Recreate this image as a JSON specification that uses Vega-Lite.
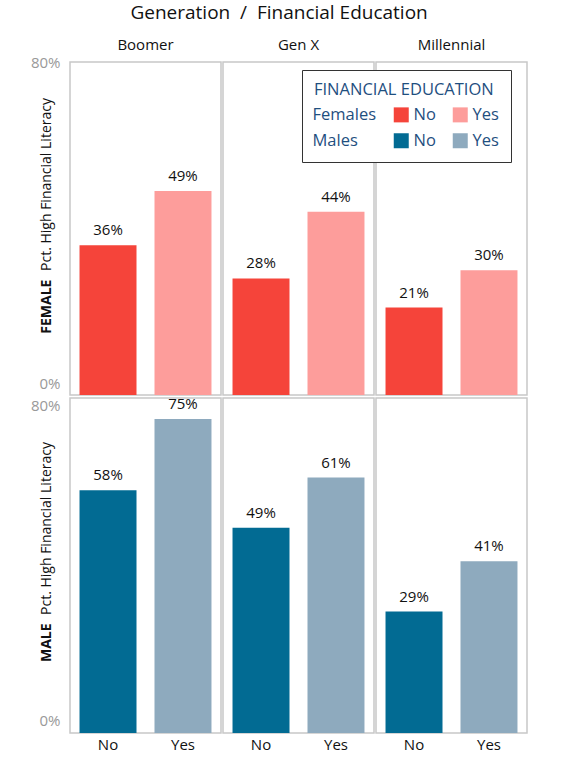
{
  "$schema": "https://vega.github.io/schema/vega-lite/v6.json",
  "padding": {"left": 30, "top": 4, "right": 5, "bottom": 5},
  "title": {
    "text": "Generation \u00a0/\u00a0 Financial Education",
    "fontSize": 19,
    "fontWeight": "normal",
    "color": "#111",
    "anchor": "middle",
    "offset": 15
  },
  "datasets": {
    "lit": [
      {"gender": "Female", "generation": "Boomer", "edu": "No", "grp": "F|No", "pct": 0.36},
      {"gender": "Female", "generation": "Boomer", "edu": "Yes", "grp": "F|Yes", "pct": 0.49},
      {"gender": "Female", "generation": "Gen X", "edu": "No", "grp": "F|No", "pct": 0.28},
      {"gender": "Female", "generation": "Gen X", "edu": "Yes", "grp": "F|Yes", "pct": 0.44},
      {"gender": "Female", "generation": "Millennial", "edu": "No", "grp": "F|No", "pct": 0.21},
      {"gender": "Female", "generation": "Millennial", "edu": "Yes", "grp": "F|Yes", "pct": 0.30},
      {"gender": "Male", "generation": "Boomer", "edu": "No", "grp": "M|No", "pct": 0.58},
      {"gender": "Male", "generation": "Boomer", "edu": "Yes", "grp": "M|Yes", "pct": 0.75},
      {"gender": "Male", "generation": "Gen X", "edu": "No", "grp": "M|No", "pct": 0.49},
      {"gender": "Male", "generation": "Gen X", "edu": "Yes", "grp": "M|Yes", "pct": 0.61},
      {"gender": "Male", "generation": "Millennial", "edu": "No", "grp": "M|No", "pct": 0.29},
      {"gender": "Male", "generation": "Millennial", "edu": "Yes", "grp": "M|Yes", "pct": 0.41}
    ]
  },
  "spacing": 0,
  "vconcat": [
    {
      "data": {"name": "lit"},
      "transform": [{"filter": "datum.gender == 'Female'"}],
      "title": {
        "text": "FEMALE",
        "orient": "left",
        "anchor": "start",
        "fontSize": 14,
        "fontWeight": "bold",
        "color": "#111",
        "offset": -24,
        "dx": 62
      },
      "spacing": 0,
      "facet": {
        "column": {
          "field": "generation",
          "type": "nominal",
          "sort": ["Boomer", "Gen X", "Millennial"],
          "title": null,
          "header": {"labelFontSize": 15, "labelColor": "#111", "labelPadding": 8}
        }
      },
      "spec": {
        "width": 151,
        "height": 333,
        "encoding": {
          "x": {
            "field": "edu",
            "type": "nominal",
            "scale": {"paddingInner": 0.24, "paddingOuter": 0.127},
            "axis": null
          },
          "y": {
            "field": "pct",
            "type": "quantitative",
            "scale": {"domain": [0, 0.8]},
            "axis": {
              "values": [0, 0.8],
              "format": ".0%",
              "grid": false,
              "ticks": false,
              "domain": false,
              "labelFlush": false,
              "labelBaseline": {"condition": {"test": "datum.value == 0", "value": "bottom"}, "value": "middle"},
              "labelOffset": {"condition": {"test": "datum.value == 0", "value": -4}, "value": 0},
              "labelFontSize": 15,
              "labelColor": "#999999",
              "labelPadding": 9,
              "title": "Pct. High Financial Literacy",
              "titleFontSize": 14,
              "titleFontWeight": "normal",
              "titleColor": "#111",
              "titleAlign": "center",
              "titleBaseline": "middle",
              "titleAngle": -90,
              "titleX": -23,
              "titleY": 122
            }
          }
        },
        "layer": [
          {
            "mark": {"type": "bar"},
            "encoding": {
              "color": {
                "field": "grp",
                "type": "nominal",
                "scale": {
                  "domain": ["Females", "F|No", "F|Yes", "Males", "M|No", "M|Yes"],
                  "range": ["transparent", "#f5443a", "#fd9d9b", "transparent", "#026b93", "#8eaabe"]
                },
                "legend": {
                  "title": "FINANCIAL EDUCATION",
                  "orient": "none",
                  "direction": "horizontal",
                  "legendX": 232,
                  "legendY": 8,
                  "columns": 3,
                  "columnPadding": 16,
                  "rowPadding": 9,
                  "padding": 12,
                  "strokeColor": "#333",
                  "fillColor": "white",
                  "titleFontSize": 16.5,
                  "titleFontWeight": "normal",
                  "titleColor": "#1f4f7f",
                  "titlePadding": 8,
                  "labelFontSize": 16.5,
                  "labelColor": "#1f4f7f",
                  "symbolType": "square",
                  "symbolSize": 225,
                  "symbolStrokeWidth": 0,
                  "labelExpr": "replace(replace(datum.label, 'F|', ''), 'M|', '')",
                  "encode": {
                    "labels": {"update": {"dx": {"signal": "datum.value == 'Females' || datum.value == 'Males' ? -22 : 0"}}}
                  }
                }
              }
            }
          },
          {
            "mark": {"type": "text", "baseline": "bottom", "dy": -7, "fontSize": 15, "color": "#111"},
            "encoding": {"text": {"field": "pct", "format": ".0%"}}
          }
        ]
      }
    },
    {
      "data": {"name": "lit"},
      "transform": [{"filter": "datum.gender == 'Male'"}],
      "title": {
        "text": "MALE",
        "orient": "left",
        "anchor": "start",
        "fontSize": 14,
        "fontWeight": "bold",
        "color": "#111",
        "offset": -24,
        "dx": 90
      },
      "spacing": 0,
      "facet": {
        "column": {
          "field": "generation",
          "type": "nominal",
          "sort": ["Boomer", "Gen X", "Millennial"],
          "title": null,
          "header": null
        }
      },
      "spec": {
        "width": 151,
        "height": 335,
        "encoding": {
          "x": {
            "field": "edu",
            "type": "nominal",
            "scale": {"paddingInner": 0.24, "paddingOuter": 0.127},
            "axis": {
              "title": null,
              "labelAngle": 0,
              "labelFontSize": 15,
              "labelColor": "#111",
              "ticks": false,
              "domain": false,
              "labelPadding": 3
            }
          },
          "y": {
            "field": "pct",
            "type": "quantitative",
            "scale": {"domain": [0, 0.8]},
            "axis": {
              "values": [0, 0.8],
              "format": ".0%",
              "grid": false,
              "ticks": false,
              "domain": false,
              "labelFlush": true,
              "labelOffset": {"condition": {"test": "datum.value == 0", "value": -5}, "value": 0},
              "labelFontSize": 15,
              "labelColor": "#999999",
              "labelPadding": 9,
              "title": "Pct. High Financial Literacy",
              "titleFontSize": 14,
              "titleFontWeight": "normal",
              "titleColor": "#111",
              "titleAlign": "center",
              "titleBaseline": "middle",
              "titleAngle": -90,
              "titleX": -23,
              "titleY": 130
            }
          }
        },
        "layer": [
          {
            "mark": {"type": "bar"},
            "encoding": {
              "color": {
                "field": "grp",
                "type": "nominal",
                "scale": {
                  "domain": ["Females", "F|No", "F|Yes", "Males", "M|No", "M|Yes"],
                  "range": ["transparent", "#f5443a", "#fd9d9b", "transparent", "#026b93", "#8eaabe"]
                },
                "legend": null
              }
            }
          },
          {
            "mark": {"type": "text", "baseline": "bottom", "dy": -7, "fontSize": 15, "color": "#111"},
            "encoding": {"text": {"field": "pct", "format": ".0%"}}
          }
        ]
      }
    }
  ],
  "config": {
    "font": "Open Sans",
    "view": {"stroke": "#c8c8c8", "strokeWidth": 1.5}
  }
}
